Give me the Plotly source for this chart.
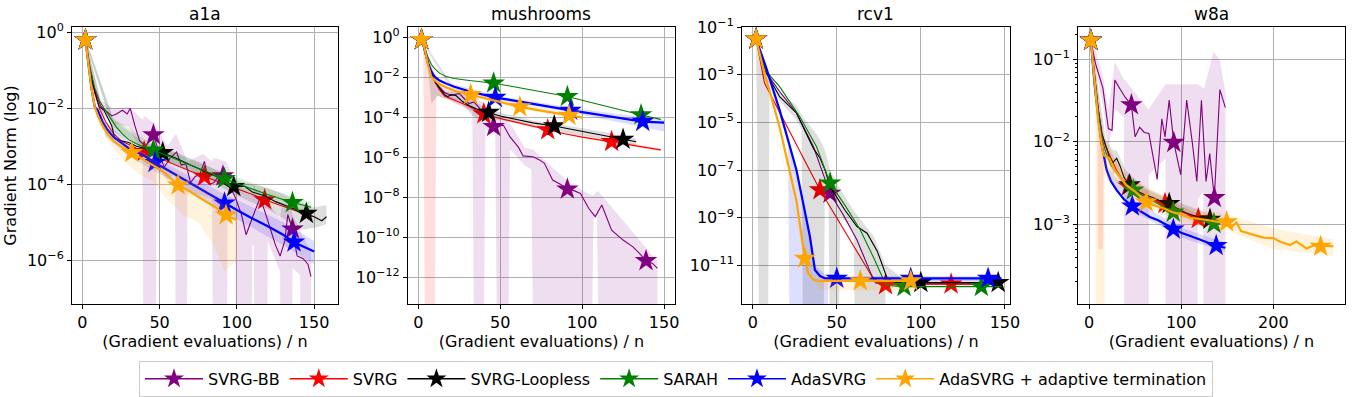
import plotly.graph_objects as go

# value used for band edges that fall below the visible axis range
F = 1e-15

METHODS = ["SVRG-BB", "SVRG", "SVRG-Loopless", "SARAH", "AdaSVRG",
           "AdaSVRG + adaptive termination"]
COLORS = ["#800080", "#ff0000", "#000000", "#008000", "#0000ff", "#ffa500"]
BAND_RGB = ["128,0,128", "255,0,0", "0,0,0", "0,128,0", "0,0,255", "255,165,0"]
WIDTHS = [1.1, 1.1, 1.1, 1.1, 2.2, 2.2]
TITLES = ["a1a", "mushrooms", "rcv1", "w8a"]

# ---------------- a1a ----------------
A1A_BB_X = [2, 6, 12, 16, 19, 22, 26, 29, 31, 34, 37, 41, 46, 50, 53, 57, 61, 64, 67, 70,
            73, 76, 79, 82, 85, 88, 91, 95, 99, 103, 106, 110, 115, 118, 121, 125, 128, 131,
            133, 136, 139, 143, 146, 148]
A1A_BB_Y = [0.63, 5.0e-2, 1.12e-2, 7.9e-3, 6.3e-3, 7.1e-3, 8.9e-3, 7.1e-3, 1.0e-2, 3.5e-3,
            1.4e-3, 1.0e-3, 2.0e-3, 6.3e-4, 2.8e-4, 5.0e-4, 7.1e-4, 3.2e-4, 3.5e-4, 1.1e-4,
            1.6e-4, 1.8e-4, 4.0e-4, 1.0e-4, 1.1e-4, 1.6e-4, 1.65e-4, 1.0e-4, 4.5e-5, 1.6e-5,
            4.7e-6, 1.3e-5, 4.4e-5, 2.0e-5, 7.9e-6, 2.5e-6, 1.3e-6, 3.2e-6, 1.6e-5, 6.6e-6,
            1.3e-6, 1.1e-6, 7.9e-7, 3.7e-7]
A1A_BB_STARS = [0, 12, 26, 39]
A1A_BB_BX = [2, 12, 20, 30, 39, 40, 47, 48, 55, 60, 61, 67, 68, 78, 84, 85, 93, 94, 99, 100,
             109, 110, 111, 112, 119, 120, 128, 129, 135, 136, 141, 142, 148]
A1A_BB_HI = [0.71, 1.6e-2, 1.0e-2, 1.1e-2, 5.0e-3, 6.3e-3, 4.0e-3, 3.2e-3, 1.0e-3, 2.0e-3,
             2.0e-3, 5.0e-4, 4.0e-4, 6.3e-4, 4.0e-4, 5.0e-4, 4.0e-4, 3.2e-4, 1.3e-4, 1.0e-4,
             5.0e-5, 6.3e-5, 1.0e-4, 7.9e-5, 4.0e-5, 3.2e-5, 1.3e-5, 2.5e-5, 2.5e-5, 1.6e-5,
             6.3e-6, 5.0e-6, 1.6e-6]
A1A_BB_LO = [0.56, 7.9e-3, 4.0e-3, 3.2e-3, 6.3e-4, F, F, 3.2e-4, 1.3e-4, 2.0e-4,
             F, F, 6.3e-5, 5.0e-5, 4.0e-5, F, F, 3.2e-5, 1.3e-5, F,
             F, 2.5e-6, 2.5e-6, F, F, 3.2e-6, 5.0e-7, F, F, 6.3e-7,
             4.0e-7, F, F]

A1A_SVRG_X = [2, 5, 8, 11, 15, 20, 25, 30, 35, 40, 50, 60, 70, 79, 90, 100, 110, 118, 130,
              140, 149]
A1A_SVRG_Y = [0.63, 0.1, 2.5e-2, 1.0e-2, 4.5e-3, 2.2e-3, 1.4e-3, 1.1e-3, 8.9e-4, 7.2e-4,
              4.8e-4, 3.2e-4, 2.2e-4, 1.6e-4, 1.1e-4, 7.9e-5, 5.4e-5, 3.9e-5, 2.6e-5, 1.9e-5,
              1.4e-5]
A1A_SVRG_STARS = [0, 9, 13, 17]

A1A_LL_X = [2, 5, 8, 11, 14, 17, 19, 21, 25, 30, 35, 40, 45, 52, 60, 70, 80, 90, 98, 105,
            110, 118, 125, 133, 140, 145, 150, 155, 158]
A1A_LL_Y = [0.63, 0.1, 2.8e-2, 1.1e-2, 8.9e-3, 5.0e-3, 3.5e-3, 1.6e-3, 1.4e-3, 1.26e-3,
            1.0e-3, 8.9e-4, 7.6e-4, 6.8e-4, 5.0e-4, 3.2e-4, 2.1e-4, 1.4e-4, 8.7e-5, 8.9e-5,
            6.3e-5, 5.0e-5, 3.5e-5, 2.6e-5, 2.1e-5, 1.7e-5, 1.4e-5, 1.1e-5, 1.4e-5]
A1A_LL_STARS = [0, 13, 18, 25]
A1A_LL_BX = [2, 20, 40, 60, 80, 100, 120, 130, 140, 150, 158]
A1A_LL_HI = [0.71, 5.0e-3, 1.26e-3, 7.1e-4, 3.2e-4, 1.26e-4, 7.9e-5, 5.6e-5, 3.5e-5, 2.5e-5,
             2.8e-5]
A1A_LL_LO = [0.56, 2.5e-3, 7.1e-4, 3.5e-4, 1.4e-4, 5.0e-5, 2.2e-5, 1.26e-5, 6.3e-6, 7.1e-6,
             8.9e-6]

A1A_SARAH_X = [2, 5, 8, 11, 14, 18, 22, 26, 30, 35, 40, 46, 55, 65, 75, 85, 92, 100, 110,
               120, 130, 136, 142, 148]
A1A_SARAH_Y = [0.63, 0.126, 3.5e-2, 1.6e-2, 1.0e-2, 5.6e-3, 3.2e-3, 2.1e-3, 1.5e-3, 1.17e-3,
               9.5e-4, 7.9e-4, 5.6e-4, 3.8e-4, 2.6e-4, 1.8e-4, 1.4e-4, 1.05e-4, 7.4e-5,
               5.4e-5, 4.0e-5, 3.3e-5, 2.9e-5, 2.5e-5]
A1A_SARAH_STARS = [0, 11, 16, 21]
A1A_SARAH_BX = [2, 20, 46, 92, 136, 148]
A1A_SARAH_HI = [0.71, 5.6e-3, 1.1e-3, 2.0e-4, 4.7e-5, 3.5e-5]
A1A_SARAH_LO = [0.56, 3.2e-3, 5.6e-4, 1.0e-4, 2.4e-5, 1.8e-5]

A1A_ADA_X = [2, 4, 6, 8, 10, 13, 16, 20, 25, 30, 35, 40, 47, 55, 62, 70, 80, 92, 100, 110,
             120, 130, 137, 144, 150]
A1A_ADA_Y = [0.63, 0.126, 3.2e-2, 1.1e-2, 8.9e-3, 4.5e-3, 2.8e-3, 1.8e-3, 1.26e-3, 8.9e-4,
             7.1e-4, 5.6e-4, 3.7e-4, 2.4e-4, 1.6e-4, 1.05e-4, 6.3e-5, 3.2e-5, 2.1e-5, 1.26e-5,
             7.9e-6, 4.7e-6, 3.0e-6, 2.2e-6, 1.7e-6]
A1A_ADA_STARS = [0, 12, 17, 22]
A1A_ADA_BX = [2, 15, 30, 47, 70, 92, 110, 130, 150]
A1A_ADA_HI = [0.71, 4.5e-3, 1.26e-3, 5.0e-4, 1.6e-4, 5.6e-5, 2.5e-5, 1.0e-5, 3.2e-6]
A1A_ADA_LO = [0.56, 1.8e-3, 5.6e-4, 2.2e-4, 6.3e-5, 1.8e-5, 7.1e-6, 2.5e-6, 7.9e-7]

A1A_AT_X = [2, 4, 6, 8, 10, 13, 16, 20, 25, 32, 38, 44, 50, 56, 62, 68, 74, 80, 86, 93, 100]
A1A_AT_Y = [0.63, 0.126, 3.2e-2, 1.1e-2, 6.3e-3, 3.5e-3, 2.2e-3, 1.4e-3, 1.0e-3, 6.8e-4,
            5.0e-4, 3.5e-4, 2.5e-4, 1.6e-4, 9.5e-5, 7.1e-5, 5.0e-5, 3.5e-5, 2.5e-5, 1.55e-5,
            1.15e-5]
A1A_AT_STARS = [0, 9, 14, 19]
A1A_AT_BX = [2, 15, 25, 35, 45, 55, 65, 75, 85, 92, 100]
A1A_AT_HI = [0.71, 4.0e-3, 1.4e-3, 8.9e-4, 5.0e-4, 2.8e-4, 1.6e-4, 8.9e-5, 5.0e-5, 2.8e-5,
             1.8e-5]
A1A_AT_LO = [0.56, 1.6e-3, 5.0e-4, 2.0e-4, 1.26e-4, 4.0e-5, 1.6e-5, 1.0e-5, 2.5e-6, 5.0e-7,
             1.0e-6]

# ---------------- mushrooms ----------------
MUS_BB_X = [2, 5, 8, 12, 16, 20, 25, 31, 34, 37, 42, 46, 52, 56, 61, 64, 70, 74, 77, 82,
            87, 91, 95, 99, 104, 108, 112, 118, 125, 131, 135, 139, 143, 146]
MUS_BB_Y = [0.79, 7.9e-2, 1.26e-2, 4.0e-3, 1.8e-3, 1.26e-3, 1.6e-3, 5.0e-4, 6.0e-4, 3.2e-4,
            7.2e-5, 3.5e-5, 4.1e-5, 1.07e-5, 3.4e-6, 1.2e-6, 1.1e-6, 7.6e-7, 5.1e-7, 7.4e-8,
            4.5e-8, 2.6e-8, 2.2e-8, 1.6e-8, 2.9e-9, 1.1e-9, 4.2e-9, 2.3e-10, 7.4e-11, 3.4e-11,
            1.6e-11, 6.8e-12, 5.0e-12, 2.8e-12]
MUS_BB_STARS = [0, 11, 21, 31]
MUS_BB_BX = [2, 12, 20, 30, 33, 34, 40, 41, 47, 48, 55, 56, 65, 69, 70, 90, 91, 106, 107,
             109, 110, 146]
MUS_BB_HI = [0.89, 6.3e-3, 2.5e-3, 1.26e-3, 1.26e-3, 1.26e-3, 5.0e-4, 4.0e-4, 1.26e-4,
             1.26e-4, 6.3e-5, 5.0e-5, 3.2e-6, 2.5e-6, 2.5e-6, 7.9e-8, 6.3e-8, 1.26e-8,
             1.26e-8, 2.0e-8, 2.0e-8, 6.3e-12]
MUS_BB_LO = [0.71, 2.5e-3, 6.3e-4, 2.5e-4, 2.0e-4, F, F, 2.5e-5, 1.6e-5, F, F, 2.5e-6,
             4.0e-7, 2.5e-7, F, F, F, F, 1.26e-9, 1.0e-9, F, F]

MUS_SVRG_X = [2, 4, 6, 8, 10, 13, 16, 20, 25, 30, 35, 40, 50, 60, 70, 79, 90, 100, 110, 118,
              130, 140, 148]
MUS_SVRG_Y = [0.79, 0.2, 5.0e-2, 1.6e-2, 6.3e-3, 2.5e-3, 1.2e-3, 8.9e-4, 6.3e-4, 4.0e-4,
              2.4e-4, 1.5e-4, 8.9e-5, 5.6e-5, 3.5e-5, 2.4e-5, 1.5e-5, 1.05e-5, 7.6e-6, 6.2e-6,
              4.2e-6, 3.0e-6, 2.4e-6]
MUS_SVRG_STARS = [0, 11, 15, 19]
MUS_SVRG_BX = [2, 3, 4, 10, 11, 20, 40, 80, 120, 148]
MUS_SVRG_HI = [0.89, 0.79, 0.25, 7.9e-3, 5.0e-3, 1.1e-3, 1.8e-4, 2.8e-5, 7.1e-6, 2.8e-6]
MUS_SVRG_LO = [0.71, 0.63, F, F, 1.26e-3, 7.1e-4, 1.26e-4, 2.0e-5, 5.0e-6, 2.0e-6]

MUS_LL_X = [2, 4, 6, 8, 10, 13, 16, 18, 20, 23, 27, 31, 36, 43, 50, 60, 70, 83, 95, 105,
            115, 125, 133]
MUS_LL_Y = [0.79, 0.2, 5.0e-2, 1.6e-2, 6.3e-3, 2.8e-3, 1.4e-3, 1.1e-3, 1.4e-3, 1.26e-3,
            6.3e-4, 4.0e-4, 2.6e-4, 1.8e-4, 1.2e-4, 7.9e-5, 5.4e-5, 3.8e-5, 2.5e-5, 1.7e-5,
            1.2e-5, 8.1e-6, 6.2e-6]
MUS_LL_STARS = [0, 13, 17, 21]
MUS_LL_BX = [2, 6, 8, 12, 16, 25, 33, 40, 50, 70, 95, 115, 133]
MUS_LL_HI = [0.89, 7.9e-2, 3.2e-2, 6.3e-3, 2.0e-3, 1.8e-3, 7.1e-4, 3.5e-4, 1.8e-4, 7.1e-5,
             3.5e-5, 1.8e-5, 8.9e-6]
MUS_LL_LO = [0.71, 2.5e-2, 5.0e-4, 1.26e-3, 8.9e-4, 7.1e-4, 1.26e-4, 6.3e-5, 7.9e-5, 4.0e-5,
             1.6e-5, 7.9e-6, 4.0e-6]

MUS_SARAH_X = [2, 4, 6, 8, 10, 13, 17, 22, 30, 38, 46, 55, 65, 75, 84, 91, 100, 110, 120,
               130, 136, 142, 148]
MUS_SARAH_Y = [0.79, 0.32, 0.1, 4.5e-2, 2.8e-2, 1.66e-2, 1.12e-2, 8.9e-3, 7.4e-3, 6.3e-3,
               5.2e-3, 3.9e-3, 2.8e-3, 1.95e-3, 1.4e-3, 1.12e-3, 7.4e-4, 4.5e-4, 2.8e-4,
               1.8e-4, 1.35e-4, 1.05e-4, 8.1e-5]
MUS_SARAH_STARS = [0, 10, 15, 20]

MUS_ADA_X = [2, 4, 6, 8, 10, 13, 17, 22, 30, 38, 47, 55, 65, 75, 85, 93, 105, 115, 125, 137,
             150]
MUS_ADA_Y = [0.79, 0.25, 5.0e-2, 2.0e-2, 1.1e-2, 7.1e-3, 5.0e-3, 3.5e-3, 2.2e-3, 1.5e-3,
             1.0e-3, 7.9e-4, 5.6e-4, 4.2e-4, 3.0e-4, 2.3e-4, 1.6e-4, 1.2e-4, 8.9e-5, 6.3e-5,
             5.5e-5]
MUS_ADA_STARS = [0, 10, 15, 19]
MUS_ADA_BX = [2, 20, 47, 93, 120, 150]
MUS_ADA_HI = [0.89, 5.0e-3, 1.26e-3, 3.2e-4, 1.6e-4, 7.9e-5]
MUS_ADA_LO = [0.71, 2.8e-3, 7.9e-4, 1.8e-4, 6.3e-5, 2.0e-5]

MUS_AT_X = [2, 4, 6, 8, 10, 13, 17, 22, 27, 32, 40, 50, 62, 72, 82, 92, 100]
MUS_AT_Y = [0.79, 0.25, 4.0e-2, 1.1e-2, 7.1e-3, 4.8e-3, 3.3e-3, 2.2e-3, 1.74e-3, 1.38e-3,
            9.5e-4, 6.0e-4, 3.4e-4, 2.4e-4, 1.74e-4, 1.26e-4, 1.0e-4]
MUS_AT_STARS = [0, 9, 12, 15]
MUS_AT_BX = [2, 20, 50, 100]
MUS_AT_HI = [0.89, 3.2e-3, 7.6e-4, 1.26e-4]
MUS_AT_LO = [0.71, 1.8e-3, 4.5e-4, 7.1e-5]

# ---------------- rcv1 ----------------
RCV_BB_X = [2, 8, 16, 26, 36, 46, 54, 62, 70, 73, 80, 100, 120, 140, 148]
RCV_BB_Y = [3.2e-2, 1.26e-3, 2.0e-4, 2.5e-5, 1.0e-6, 1.05e-8, 1.26e-9, 1.15e-10, 5.0e-12,
            1.8e-12, 1.66e-12, 1.66e-12, 1.66e-12, 1.66e-12, 1.66e-12]
RCV_BB_STARS = [0, 5]

RCV_SVRG_X = [2, 7, 40, 71, 76, 79, 100, 118, 140, 148]
RCV_SVRG_Y = [3.2e-2, 4.5e-4, 1.45e-8, 3.3e-12, 1.74e-12, 1.48e-12, 1.6e-12, 1.6e-12,
              1.6e-12, 1.6e-12]
RCV_SVRG_STARS = [0, 2, 5, 7]

RCV_LL_X = [2, 8, 16, 26, 36, 40, 43, 46, 55, 62, 68, 74, 80, 85, 100, 120, 146, 148]
RCV_LL_Y = [3.2e-2, 1.26e-3, 1.2e-4, 2.5e-5, 8.3e-7, 3.2e-7, 1.0e-7, 2.0e-8, 2.0e-9, 4.2e-10,
            2.2e-10, 4.0e-11, 2.8e-12, 1.86e-12, 1.86e-12, 1.86e-12, 1.86e-12, 1.86e-12]
RCV_LL_STARS = [0, 14, 16]
RCV_LL_BX = [2, 4, 9, 10, 16, 26, 29, 30, 38, 42, 43, 45, 46, 51, 52, 60, 61, 72, 78, 79,
             90, 148]
RCV_LL_HI = [3.5e-2, 1.0e-2, 1.0e-3, 7.9e-4, 2.0e-4, 5.0e-5, 2.0e-5, 1.6e-5, 3.2e-6, 1.0e-6,
             6.3e-7, 1.6e-7, 1.0e-7, 2.0e-8, 1.6e-8, 2.0e-9, 1.6e-9, 1.6e-10, 1.6e-11,
             1.0e-11, 2.5e-12, 2.5e-12]
RCV_LL_LO = [2.8e-2, F, F, 6.3e-4, 7.9e-5, 1.26e-5, 5.0e-6, F, F, F, 4.0e-8, 2.5e-8, F, F,
             1.26e-9, 2.5e-10, F, F, F, 1.0e-12, 1.4e-12, 1.4e-12]

RCV_SARAH_X = [2, 8, 16, 28, 38, 46, 55, 64, 72, 77, 80, 90, 110, 136, 148]
RCV_SARAH_Y = [3.2e-2, 1.4e-3, 3.2e-4, 1.74e-5, 9.5e-7, 2.8e-8, 3.2e-9, 3.0e-10, 2.0e-11,
               3.3e-12, 1.4e-12, 1.26e-12, 1.26e-12, 1.26e-12, 1.26e-12]
RCV_SARAH_STARS = [0, 5, 11, 13]

RCV_ADA_X = [2, 8, 16, 26, 34, 37, 40, 43, 50, 70, 94, 120, 140, 148]
RCV_ADA_Y = [3.2e-2, 2.0e-3, 3.3e-5, 1.0e-7, 1.6e-10, 6.3e-12, 3.5e-12, 2.8e-12, 2.8e-12,
             2.8e-12, 2.8e-12, 2.8e-12, 2.8e-12, 2.8e-12]
RCV_ADA_STARS = [0, 8, 10, 12]
RCV_ADA_BX = [2, 21, 22, 26, 34, 37, 44, 45, 148]
RCV_ADA_HI = [3.5e-2, 2.5e-6, 1.26e-6, 1.0e-7, 2.5e-10, 1.0e-11, 3.5e-12, 3.5e-12, 3.5e-12]
RCV_ADA_LO = [2.8e-2, 1.26e-6, F, F, F, F, F, 2.2e-12, 2.2e-12]

RCV_AT_X = [2, 6, 16, 26, 31, 33, 36, 40, 50, 64, 80, 94, 97]
RCV_AT_Y = [3.2e-2, 2.2e-3, 6.3e-6, 5.0e-9, 1.95e-11, 4.6e-12, 2.5e-12, 2.2e-12, 2.2e-12,
            2.2e-12, 2.2e-12, 2.2e-12, 2.2e-12]
RCV_AT_STARS = [0, 4, 9, 11]
RCV_AT_BX = [2, 31, 36, 40, 97]
RCV_AT_HI = [3.5e-2, 2.5e-11, 2.8e-12, 2.5e-12, 2.5e-12]
RCV_AT_LO = [2.8e-2, 1.6e-11, 2.0e-12, 8.9e-13, 8.9e-13]

# ---------------- w8a ----------------
W8A_BB_X = [2, 7, 15, 21, 25, 28, 34, 39, 46, 50, 55, 60, 65, 74, 79, 82.5, 87, 92, 99.5,
            106, 112, 117, 122, 127, 131, 136, 142, 148]
W8A_BB_Y = [0.17, 8.9e-2, 4.5e-2, 1.45e-2, 1.38e-2, 5.6e-2, 4.3e-2, 3.5e-2, 2.8e-2, 1.15e-2,
            1.5e-2, 1.3e-2, 1.26e-2, 3.5e-3, 1.9e-2, 1.15e-2, 3.2e-2, 9.8e-3, 4.0e-3, 3.2e-2,
            1.0e-2, 3.3e-3, 3.2e-2, 3.3e-3, 7.2e-3, 2.1e-3, 4.3e-2, 2.6e-2]
W8A_BB_STARS = [0, 8, 17, 25]
W8A_BB_BX = [2, 15, 21, 28, 38, 39, 64, 65, 83, 84, 117, 118, 124, 125, 135, 142, 148]
W8A_BB_HI = [0.2, 6.3e-2, 2.5e-2, 9.3e-2, 5.6e-2, 5.6e-2, 2.5e-2, 2.5e-2, 5.0e-2, 5.0e-2,
             5.0e-2, 5.0e-2, 4.5e-2, 4.5e-2, 0.123, 0.1, 4.0e-2]
W8A_BB_LO = [0.15, 2.8e-2, 7.9e-3, 2.5e-2, 2.0e-2, F, F, 4.0e-3, 6.3e-3, F, F, 2.0e-3,
             2.5e-3, F, F, F, F]

W8A_SVRG_X = [2, 6, 10, 14, 18, 24, 30, 36, 42.7, 50, 60, 70, 82.5, 95, 105, 118.6, 128]
W8A_SVRG_Y = [0.17, 6.3e-2, 2.5e-2, 1.26e-2, 8.9e-3, 6.3e-3, 4.5e-3, 3.5e-3, 2.9e-3, 2.5e-3,
              2.2e-3, 2.0e-3, 1.78e-3, 1.5e-3, 1.35e-3, 1.17e-3, 1.07e-3]
W8A_SVRG_STARS = [0, 8, 12, 15]
W8A_SVRG_BX = [2, 9, 10, 15, 16, 40, 80, 128]
W8A_SVRG_HI = [0.19, 3.5e-2, 2.8e-2, 1.4e-2, 1.1e-2, 3.5e-3, 2.1e-3, 1.2e-3]
W8A_SVRG_LO = [0.16, 2.5e-2, 5.0e-4, 5.0e-4, 7.1e-3, 2.5e-3, 1.5e-3, 9.3e-4]

W8A_LL_X = [2, 6, 10, 14, 18, 22, 26, 30, 34, 38, 44, 50, 60, 70, 78, 87, 95, 105, 115,
            125, 131.3, 136]
W8A_LL_Y = [0.17, 6.3e-2, 2.5e-2, 1.26e-2, 8.9e-3, 6.6e-3, 5.6e-3, 6.3e-3, 5.0e-3, 3.7e-3,
            3.0e-3, 2.6e-3, 2.3e-3, 2.1e-3, 1.9e-3, 1.78e-3, 1.58e-3, 1.38e-3, 1.26e-3,
            1.2e-3, 1.15e-3, 1.07e-3]
W8A_LL_STARS = [0, 10, 15, 20]
W8A_LL_BX = [2, 18, 26, 30, 40, 60, 90, 136]
W8A_LL_HI = [0.19, 1.1e-2, 7.9e-3, 7.9e-3, 4.5e-3, 2.8e-3, 2.0e-3, 1.26e-3]
W8A_LL_LO = [0.16, 7.1e-3, 4.0e-3, 4.5e-3, 2.8e-3, 1.9e-3, 1.5e-3, 9.1e-4]

W8A_SARAH_X = [2, 6, 10, 14, 18, 24, 30, 38, 48, 60, 75, 91.5, 105, 120, 135.6, 142]
W8A_SARAH_Y = [0.17, 6.3e-2, 2.5e-2, 1.12e-2, 7.6e-3, 5.2e-3, 4.2e-3, 3.3e-3, 2.6e-3,
               2.2e-3, 1.78e-3, 1.4e-3, 1.26e-3, 1.12e-3, 1.02e-3, 1.0e-3]
W8A_SARAH_STARS = [0, 8, 11, 14]

W8A_ADA_X = [2, 6, 10, 14, 19, 24, 30, 38, 47, 56, 66, 75, 83, 91.5, 100, 110, 120, 130,
             138, 148]
W8A_ADA_Y = [0.17, 5.0e-2, 2.0e-2, 8.9e-3, 4.6e-3, 3.3e-3, 2.6e-3, 2.0e-3, 1.66e-3, 1.45e-3,
             1.23e-3, 1.12e-3, 1.0e-3, 8.7e-4, 7.9e-4, 7.2e-4, 6.5e-4, 5.9e-4, 5.5e-4, 5.2e-4]
W8A_ADA_STARS = [0, 8, 13, 18]
W8A_ADA_BX = [2, 20, 50, 100, 148]
W8A_ADA_HI = [0.19, 5.0e-3, 1.9e-3, 9.1e-4, 6.0e-4]
W8A_ADA_LO = [0.16, 3.5e-3, 1.4e-3, 6.9e-4, 4.6e-4]

W8A_AT_X = [2, 6, 10, 15.5, 22, 28, 34, 40, 50, 62, 70, 80, 90, 100, 110, 120, 130, 140,
            149.4, 155, 160, 165, 172, 180, 189, 200, 207, 218, 225, 236, 245, 251.4, 258, 265]
W8A_AT_Y = [0.17, 5.0e-2, 1.78e-2, 6.9e-3, 6.3e-3, 4.5e-3, 3.7e-3, 3.0e-3, 2.5e-3, 1.86e-3,
            1.7e-3, 1.58e-3, 1.41e-3, 1.32e-3, 1.2e-3, 1.17e-3, 1.12e-3, 1.07e-3, 1.07e-3,
            9.3e-4, 1.05e-3, 8.3e-4, 7.9e-4, 7.4e-4, 6.9e-4, 6.8e-4, 6.2e-4, 5.6e-4, 6.2e-4,
            5.1e-4, 5.6e-4, 5.4e-4, 5.5e-4, 5.4e-4]
W8A_AT_STARS = [0, 9, 18, 31]
W8A_AT_BX = [2, 7, 8, 16, 17, 40, 100, 150, 200, 265]
W8A_AT_HI = [0.19, 7.9e-2, 6.3e-2, 1.26e-2, 1.0e-2, 4.0e-3, 1.66e-3, 1.32e-3, 8.9e-4, 6.6e-4]
W8A_AT_LO = [0.16, 3.5e-2, F, F, 4.0e-3, 2.2e-3, 1.05e-3, 8.5e-4, 5.0e-4, 4.2e-4]

# series per panel, in method order: (x, y, star indices, band x, band lo, band hi)
PANELS = [
    [(A1A_BB_X, A1A_BB_Y, A1A_BB_STARS, A1A_BB_BX, A1A_BB_LO, A1A_BB_HI),
     (A1A_SVRG_X, A1A_SVRG_Y, A1A_SVRG_STARS, None, None, None),
     (A1A_LL_X, A1A_LL_Y, A1A_LL_STARS, A1A_LL_BX, A1A_LL_LO, A1A_LL_HI),
     (A1A_SARAH_X, A1A_SARAH_Y, A1A_SARAH_STARS, A1A_SARAH_BX, A1A_SARAH_LO, A1A_SARAH_HI),
     (A1A_ADA_X, A1A_ADA_Y, A1A_ADA_STARS, A1A_ADA_BX, A1A_ADA_LO, A1A_ADA_HI),
     (A1A_AT_X, A1A_AT_Y, A1A_AT_STARS, A1A_AT_BX, A1A_AT_LO, A1A_AT_HI)],
    [(MUS_BB_X, MUS_BB_Y, MUS_BB_STARS, MUS_BB_BX, MUS_BB_LO, MUS_BB_HI),
     (MUS_SVRG_X, MUS_SVRG_Y, MUS_SVRG_STARS, MUS_SVRG_BX, MUS_SVRG_LO, MUS_SVRG_HI),
     (MUS_LL_X, MUS_LL_Y, MUS_LL_STARS, MUS_LL_BX, MUS_LL_LO, MUS_LL_HI),
     (MUS_SARAH_X, MUS_SARAH_Y, MUS_SARAH_STARS, None, None, None),
     (MUS_ADA_X, MUS_ADA_Y, MUS_ADA_STARS, MUS_ADA_BX, MUS_ADA_LO, MUS_ADA_HI),
     (MUS_AT_X, MUS_AT_Y, MUS_AT_STARS, MUS_AT_BX, MUS_AT_LO, MUS_AT_HI)],
    [(RCV_BB_X, RCV_BB_Y, RCV_BB_STARS, None, None, None),
     (RCV_SVRG_X, RCV_SVRG_Y, RCV_SVRG_STARS, None, None, None),
     (RCV_LL_X, RCV_LL_Y, RCV_LL_STARS, RCV_LL_BX, RCV_LL_LO, RCV_LL_HI),
     (RCV_SARAH_X, RCV_SARAH_Y, RCV_SARAH_STARS, None, None, None),
     (RCV_ADA_X, RCV_ADA_Y, RCV_ADA_STARS, RCV_ADA_BX, RCV_ADA_LO, RCV_ADA_HI),
     (RCV_AT_X, RCV_AT_Y, RCV_AT_STARS, RCV_AT_BX, RCV_AT_LO, RCV_AT_HI)],
    [(W8A_BB_X, W8A_BB_Y, W8A_BB_STARS, W8A_BB_BX, W8A_BB_LO, W8A_BB_HI),
     (W8A_SVRG_X, W8A_SVRG_Y, W8A_SVRG_STARS, W8A_SVRG_BX, W8A_SVRG_LO, W8A_SVRG_HI),
     (W8A_LL_X, W8A_LL_Y, W8A_LL_STARS, W8A_LL_BX, W8A_LL_LO, W8A_LL_HI),
     (W8A_SARAH_X, W8A_SARAH_Y, W8A_SARAH_STARS, None, None, None),
     (W8A_ADA_X, W8A_ADA_Y, W8A_ADA_STARS, W8A_ADA_BX, W8A_ADA_LO, W8A_ADA_HI),
     (W8A_AT_X, W8A_AT_Y, W8A_AT_STARS, W8A_AT_BX, W8A_AT_LO, W8A_AT_HI)],
]

# axis ticks per panel
X_TICKS = [[0, 50, 100, 150], [0, 50, 100, 150], [0, 50, 100, 150], [0, 100, 200]]
Y_EXPS = [[0, -2, -4, -6], [0, -2, -4, -6, -8, -10, -12], [-1, -3, -5, -7, -9, -11],
          [-1, -2, -3]]

# layout (pixel-matched)
X_DOMAINS = [[0.0, 0.209], [0.2639, 0.4737], [0.5263, 0.7368], [0.7903, 1.0]]
X_RANGES = [[-6.7, 165.5], [-6.3, 156.7], [-6.4, 153], [-11.9, 277.8]]
Y_RANGES = [[-7.15, 0.14], [-13.33, 0.53], [-12.63, -0.99], [-3.966, -0.608]]

FONT = "DejaVu Sans"
GRID = "#b0b0b0"

fig = go.Figure()

for p, series in enumerate(PANELS):
    xa = "x" if p == 0 else f"x{p + 1}"
    ya = "y" if p == 0 else f"y{p + 1}"
    for m, (x, y, stars, bx, lo, hi) in enumerate(series):
        if bx is not None:
            fig.add_trace(go.Scatter(
                x=list(bx) + list(bx)[::-1], y=list(hi) + list(lo)[::-1],
                fill="toself", fillcolor=f"rgba({BAND_RGB[m]},0.13)",
                line=dict(width=0), mode="lines", hoverinfo="skip",
                showlegend=False, xaxis=xa, yaxis=ya))
        sizes = [17 if i in stars else 0 for i in range(len(x))]
        fig.add_trace(go.Scatter(
            x=x, y=y, mode="lines+markers",
            line=dict(color=COLORS[m], width=WIDTHS[m]),
            marker=dict(symbol="star", size=sizes, color=COLORS[m], opacity=1,
                        line=dict(width=0)),
            showlegend=False, name=METHODS[m], xaxis=xa, yaxis=ya))

# legend-only entries
for m, name in enumerate(METHODS):
    fig.add_trace(go.Scatter(
        x=[None], y=[None], mode="lines+markers", name=name,
        line=dict(color=COLORS[m], width=1.6),
        marker=dict(symbol="star", size=15, color=COLORS[m], opacity=1),
        xaxis="x", yaxis="y"))

layout = dict(
    width=1352, height=397,
    margin=dict(l=72, r=7, t=27, b=93, autoexpand=False),
    plot_bgcolor="white", paper_bgcolor="white",
    font=dict(family=FONT, size=16, color="black"),
    showlegend=True,
    legend=dict(orientation="h", xref="container", yref="paper",
                x=0.5, xanchor="center", y=-0.205, yanchor="top",
                bordercolor="#cccccc", borderwidth=1, itemwidth=58,
                font=dict(family=FONT, size=16), tracegroupgap=0),
    annotations=[],
)

for p in range(4):
    xk = "xaxis" if p == 0 else f"xaxis{p + 1}"
    yk = "yaxis" if p == 0 else f"yaxis{p + 1}"
    anchor_x = "y" if p == 0 else f"y{p + 1}"
    anchor_y = "x" if p == 0 else f"x{p + 1}"
    layout[xk] = dict(
        domain=X_DOMAINS[p], range=X_RANGES[p], anchor=anchor_x, automargin=False,
        tickmode="array", tickvals=X_TICKS[p], ticktext=[str(v) for v in X_TICKS[p]],
        showgrid=True, gridcolor=GRID, gridwidth=0.8, zeroline=False,
        showline=True, linecolor="black", linewidth=1, mirror=True,
        ticks="outside", ticklen=4, tickcolor="black",
        tickfont=dict(family=FONT, size=16),
        title=dict(text="(Gradient evaluations) / n", font=dict(family=FONT, size=16),
                   standoff=2))
    ycfg = dict(
        domain=[0, 1], type="log", range=Y_RANGES[p], anchor=anchor_y, automargin=False,
        tickmode="array", tickvals=[10.0 ** e for e in Y_EXPS[p]],
        ticktext=[f"10<sup>{str(e).replace('-', '−')}</sup>" for e in Y_EXPS[p]],
        showgrid=True, gridcolor=GRID, gridwidth=0.8, zeroline=False,
        showline=True, linecolor="black", linewidth=1, mirror=True,
        ticks="outside", ticklen=4, tickcolor="black",
        tickfont=dict(family=FONT, size=16))
    if p == 0:
        ycfg["title"] = dict(text="Gradient Norm (log)", font=dict(family=FONT, size=16),
                             standoff=6)
    if p == 3:
        ycfg["minor"] = dict(
            tickmode="array",
            tickvals=[d * 10.0 ** k for k in (-4, -3, -2, -1) for d in range(2, 10)],
            ticks="outside", ticklen=2, tickcolor="black", showgrid=False)
    layout[yk] = ycfg
    layout["annotations"].append(dict(
        text=TITLES[p], xref="paper", yref="paper",
        x=sum(X_DOMAINS[p]) / 2, y=1, xanchor="center", yanchor="bottom", yshift=1,
        showarrow=False, font=dict(family=FONT, size=17)))

fig.update_layout(**layout)
# the page's default body margin would offset the 1352x397 figure by 8px
fig.write_html("out.html", config={"displayModeBar": False},
               post_script="document.body.style.margin = '0px';")
